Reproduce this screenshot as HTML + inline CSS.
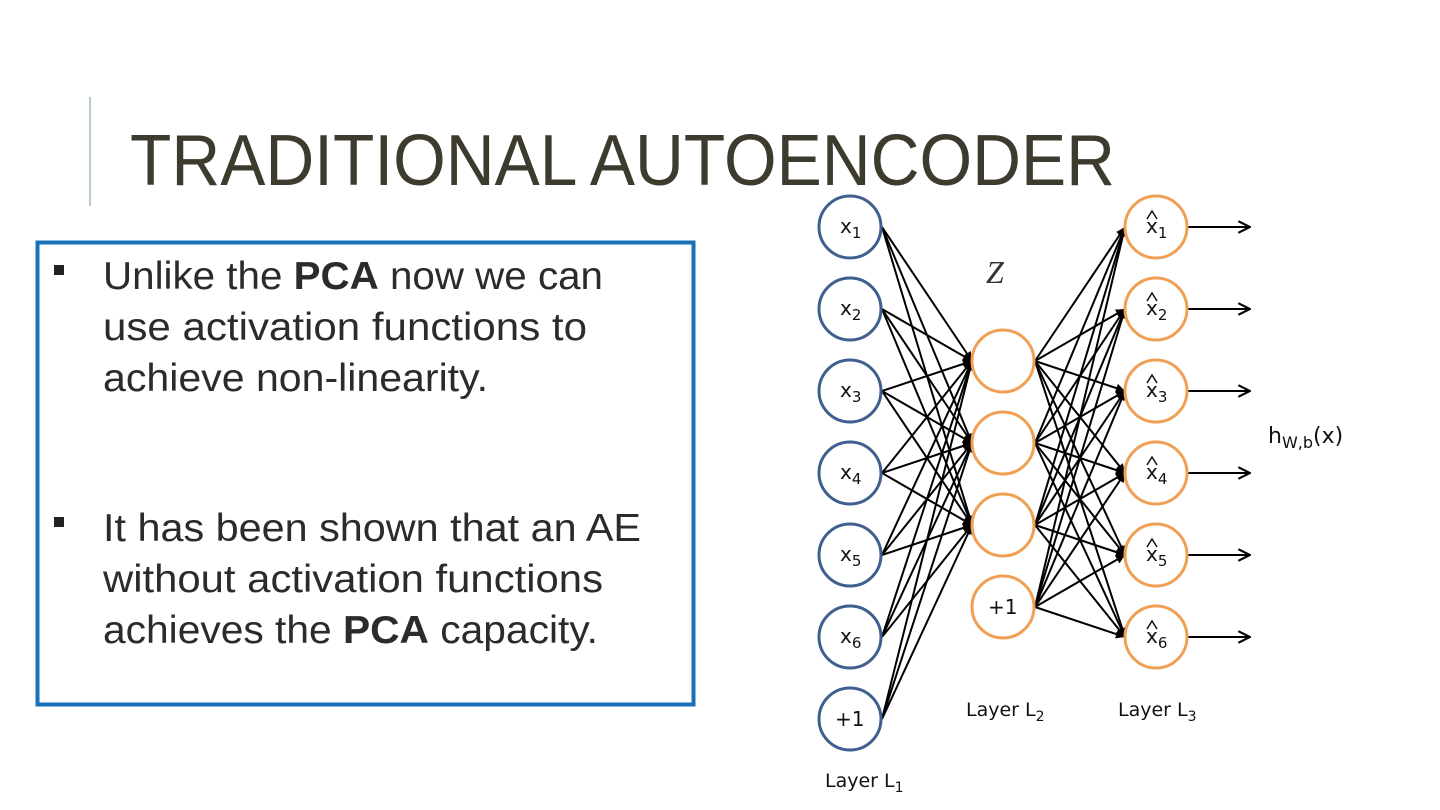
<!DOCTYPE html>
<html><head><meta charset="utf-8"><style>
html,body{margin:0;padding:0;background:#fff;}
svg{display:block;}
</style></head><body>
<svg width="1440" height="810" viewBox="0 0 1440 810" xmlns="http://www.w3.org/2000/svg">
<defs>
<marker id="a" viewBox="0 0 10 10" refX="10" refY="5" markerWidth="11" markerHeight="9" markerUnits="userSpaceOnUse" orient="auto">
<path d="M0,0 L10,5 L0,10 z" fill="#000"/></marker>
<marker id="o" viewBox="0 0 12 12" refX="11" refY="6" markerWidth="14" markerHeight="14" markerUnits="userSpaceOnUse" orient="auto">
<path d="M1,1 L11,6 L1,11" fill="none" stroke="#000" stroke-width="1.8"/></marker>
</defs>
<line x1="90" y1="97" x2="90" y2="206" stroke="#9fbcbc" stroke-width="1.5"/>
<text x="130" y="185" font-family="'Liberation Sans Narrow','Liberation Sans',sans-serif" font-size="72" fill="#3d3a2e" textLength="985" lengthAdjust="spacingAndGlyphs">TRADITIONAL  AUTOENCODER</text>
<rect x="37.5" y="242.5" width="656" height="462" fill="none" stroke="#1870b8" stroke-width="4"/>
<g font-family="'Liberation Sans Narrow','Liberation Sans',sans-serif" font-size="39" fill="#2b2b2b">
<rect x="54" y="265" width="10" height="10" fill="#222"/>
<rect x="54" y="517" width="10" height="10" fill="#222"/>
<text x="103" y="289" textLength="500" lengthAdjust="spacingAndGlyphs">Unlike the <tspan font-weight="bold">PCA</tspan> now we can</text>
<text x="103" y="340" textLength="484" lengthAdjust="spacingAndGlyphs">use activation functions to</text>
<text x="103" y="391" textLength="385" lengthAdjust="spacingAndGlyphs">achieve non-linearity.</text>
<text x="103" y="541" textLength="538" lengthAdjust="spacingAndGlyphs">It has been shown that an AE</text>
<text x="103" y="592" textLength="500" lengthAdjust="spacingAndGlyphs">without activation functions</text>
<text x="103" y="643" textLength="495" lengthAdjust="spacingAndGlyphs">achieves the <tspan font-weight="bold">PCA</tspan> capacity.</text>
</g>
<g stroke="#000" stroke-width="2" marker-end="url(#a)">
<line x1="882" y1="227" x2="972" y2="361"/><line x1="882" y1="227" x2="972" y2="443"/><line x1="882" y1="227" x2="972" y2="525"/>
<line x1="882" y1="309" x2="972" y2="361"/><line x1="882" y1="309" x2="972" y2="443"/><line x1="882" y1="309" x2="972" y2="525"/>
<line x1="882" y1="391" x2="972" y2="361"/><line x1="882" y1="391" x2="972" y2="443"/><line x1="882" y1="391" x2="972" y2="525"/>
<line x1="882" y1="473" x2="972" y2="361"/><line x1="882" y1="473" x2="972" y2="443"/><line x1="882" y1="473" x2="972" y2="525"/>
<line x1="882" y1="555" x2="972" y2="361"/><line x1="882" y1="555" x2="972" y2="443"/><line x1="882" y1="555" x2="972" y2="525"/>
<line x1="882" y1="637" x2="972" y2="361"/><line x1="882" y1="637" x2="972" y2="443"/><line x1="882" y1="637" x2="972" y2="525"/>
<line x1="882" y1="719" x2="972" y2="361"/><line x1="882" y1="719" x2="972" y2="443"/><line x1="882" y1="719" x2="972" y2="525"/>
<line x1="1035" y1="361" x2="1125" y2="227"/><line x1="1035" y1="361" x2="1125" y2="309"/><line x1="1035" y1="361" x2="1125" y2="391"/><line x1="1035" y1="361" x2="1125" y2="473"/><line x1="1035" y1="361" x2="1125" y2="555"/><line x1="1035" y1="361" x2="1125" y2="637"/>
<line x1="1035" y1="443" x2="1125" y2="227"/><line x1="1035" y1="443" x2="1125" y2="309"/><line x1="1035" y1="443" x2="1125" y2="391"/><line x1="1035" y1="443" x2="1125" y2="473"/><line x1="1035" y1="443" x2="1125" y2="555"/><line x1="1035" y1="443" x2="1125" y2="637"/>
<line x1="1035" y1="525" x2="1125" y2="227"/><line x1="1035" y1="525" x2="1125" y2="309"/><line x1="1035" y1="525" x2="1125" y2="391"/><line x1="1035" y1="525" x2="1125" y2="473"/><line x1="1035" y1="525" x2="1125" y2="555"/><line x1="1035" y1="525" x2="1125" y2="637"/>
<line x1="1035" y1="607" x2="1125" y2="227"/><line x1="1035" y1="607" x2="1125" y2="309"/><line x1="1035" y1="607" x2="1125" y2="391"/><line x1="1035" y1="607" x2="1125" y2="473"/><line x1="1035" y1="607" x2="1125" y2="555"/><line x1="1035" y1="607" x2="1125" y2="637"/>
</g>
<g stroke="#000" stroke-width="2" marker-end="url(#o)">
<line x1="1188" y1="227" x2="1250" y2="227"/><line x1="1188" y1="309" x2="1250" y2="309"/><line x1="1188" y1="391" x2="1250" y2="391"/>
<line x1="1188" y1="473" x2="1250" y2="473"/><line x1="1188" y1="555" x2="1250" y2="555"/><line x1="1188" y1="637" x2="1250" y2="637"/>
</g>
<g fill="#fff" stroke-width="3">
<g stroke="#3f5f8f">
<circle cx="850" cy="227" r="31"/><circle cx="850" cy="309" r="31"/><circle cx="850" cy="391" r="31"/><circle cx="850" cy="473" r="31"/><circle cx="850" cy="555" r="31"/><circle cx="850" cy="637" r="31"/><circle cx="850" cy="719" r="31"/>
</g>
<g stroke="#f0a055">
<circle cx="1003" cy="361" r="31"/><circle cx="1003" cy="443" r="31"/><circle cx="1003" cy="525" r="31"/><circle cx="1003" cy="607" r="31"/>
<circle cx="1156" cy="227" r="31"/><circle cx="1156" cy="309" r="31"/><circle cx="1156" cy="391" r="31"/><circle cx="1156" cy="473" r="31"/><circle cx="1156" cy="555" r="31"/><circle cx="1156" cy="637" r="31"/>
</g>
</g>
<g font-family="'DejaVu Sans','Liberation Sans',sans-serif" font-size="20" fill="#111">
<text x="840" y="233">x<tspan font-size="15" dy="5">1</tspan></text>
<text x="840" y="315">x<tspan font-size="15" dy="5">2</tspan></text>
<text x="840" y="397">x<tspan font-size="15" dy="5">3</tspan></text>
<text x="840" y="479">x<tspan font-size="15" dy="5">4</tspan></text>
<text x="840" y="561">x<tspan font-size="15" dy="5">5</tspan></text>
<text x="840" y="643">x<tspan font-size="15" dy="5">6</tspan></text>
<text x="835" y="726">+1</text>
<text x="988" y="614">+1</text>
<text x="1146" y="233">x<tspan font-size="15" dy="5">1</tspan></text>
<text x="1146" y="315">x<tspan font-size="15" dy="5">2</tspan></text>
<text x="1146" y="397">x<tspan font-size="15" dy="5">3</tspan></text>
<text x="1146" y="479">x<tspan font-size="15" dy="5">4</tspan></text>
<text x="1146" y="561">x<tspan font-size="15" dy="5">5</tspan></text>
<text x="1146" y="643">x<tspan font-size="15" dy="5">6</tspan></text>
</g>
<g fill="none" stroke="#111" stroke-width="1.5">
<path d="M1147,219 L1152,211 L1157,219"/><path d="M1147,301 L1152,293 L1157,301"/><path d="M1147,383 L1152,375 L1157,383"/>
<path d="M1147,465 L1152,457 L1157,465"/><path d="M1147,547 L1152,539 L1157,547"/><path d="M1147,629 L1152,621 L1157,629"/>
</g>
<g font-family="'DejaVu Sans','Liberation Sans',sans-serif" font-size="19" fill="#111">
<text x="825" y="787">Layer L<tspan font-size="14" dy="5">1</tspan></text>
<text x="966" y="716">Layer L<tspan font-size="14" dy="5">2</tspan></text>
<text x="1118" y="716">Layer L<tspan font-size="14" dy="5">3</tspan></text>
<text x="1268" y="443" font-size="22">h<tspan font-size="16" dy="5">W,b</tspan><tspan dy="-5">(x)</tspan></text>
<text x="986" y="283" font-family="'Liberation Serif',serif" font-style="italic" font-size="32" fill="#333">Z</text>
</g>
</svg>
</body></html>
